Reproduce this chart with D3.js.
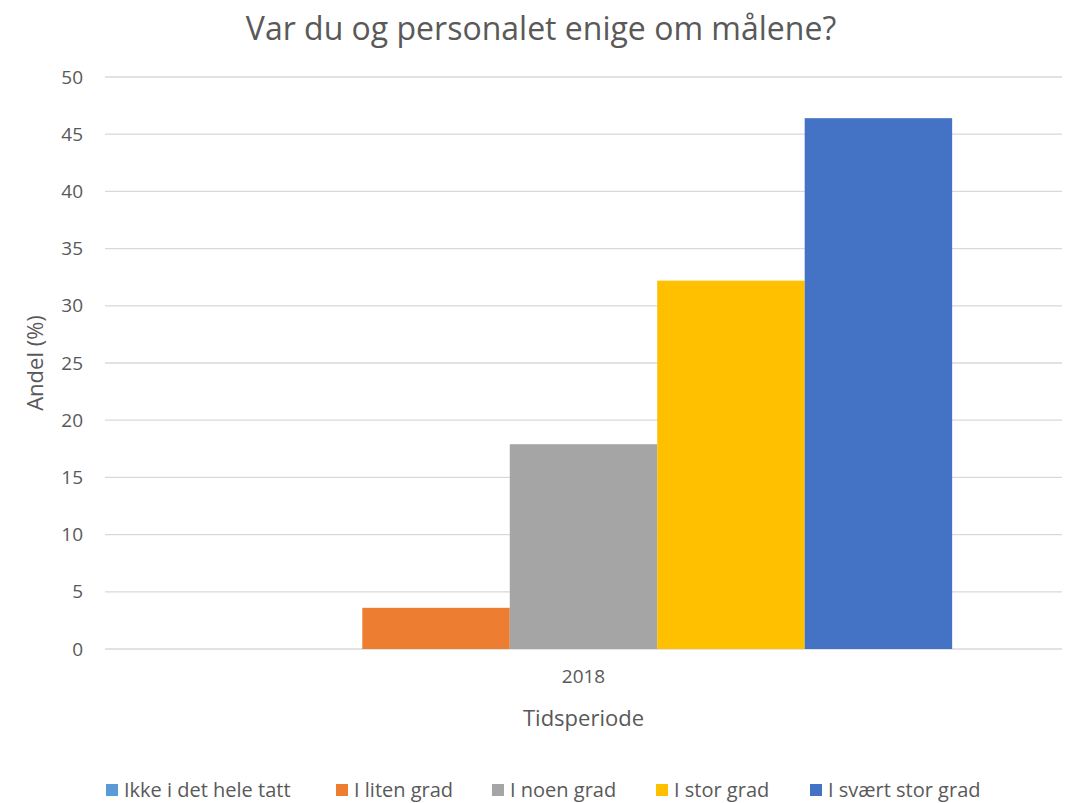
<!DOCTYPE html>
<html>
<head>
<meta charset="utf-8">
<script src="https://cdn.jsdelivr.net/npm/d3@7"></script>
<style>
  body { margin: 0; background: #fff; }
  text { font-family: "Open Sans", "Noto Sans", sans-serif; fill: #595959; }
</style>
</head>
<body>
<svg id="chart" width="1071" height="803"></svg>
<script>
// data
var periods = ["2018"];
var series = ["Ikke i det hele tatt", "I liten grad", "I noen grad", "I stor grad", "I svært stor grad"];
var values2018 = [0, 3.6, 17.9, 32.2, 46.4];
var colors = ["#5b9bd5", "#ed7d31", "#a5a5a5", "#ffc000", "#4472c4"];
var yTicks = [0, 5, 10, 15, 20, 25, 30, 35, 40, 45, 50];

var svg = d3.select("#chart");
var margin = {top: 77, right: 9, bottom: 154, left: 105};
var width = +svg.attr("width") - margin.left - margin.right,
    height = +svg.attr("height") - margin.top - margin.bottom;

var g = svg.append("g")
    .attr("transform", "translate(" + margin.left + "," + margin.top + ")");

var x0 = d3.scaleBand().domain(periods).range([0, width]).paddingInner(0).paddingOuter(0.149);
var x1 = d3.scaleBand().domain(series).range([0, x0.bandwidth()]);
var y = d3.scaleLinear().domain([0, 50]).range([height, 0]);

// gridlines
g.append("g")
    .selectAll("line")
    .data(yTicks).enter()
    .append("line")
    .attr("x1", 0).attr("x2", width)
    .attr("y1", function(d) { return y(d); })
    .attr("y2", function(d) { return y(d); })
    .style("stroke", "#d9d9d9")
    .style("stroke-width", 1.3);

// y axis labels
var yAxis = d3.axisLeft(y).tickValues(yTicks).tickSize(0).tickPadding(22);
g.append("g").call(yAxis)
    .call(function(a) { a.select(".domain").remove(); })
    .selectAll("text").style("font-size", "19px").style("fill", "#595959");

// bars
var data = series.map(function(s, i) { return {key: s, value: values2018[i], color: colors[i]}; });
g.append("g").selectAll("g")
    .data(periods).enter()
    .append("g")
    .attr("transform", function(d) { return "translate(" + x0(d) + ",0)"; })
    .selectAll("rect")
    .data(data).enter()
    .append("rect")
    .attr("x", function(d) { return x1(d.key); })
    .attr("width", x1.bandwidth())
    .attr("y", function(d) { return y(d.value); })
    .attr("height", function(d) { return height - y(d.value); })
    .style("fill", function(d) { return d.color; });

// x axis labels
var xAxis = d3.axisBottom(x0).tickSize(0).tickPadding(21);
g.append("g")
    .attr("transform", "translate(0," + height + ")")
    .call(xAxis)
    .call(function(a) { a.select(".domain").remove(); })
    .selectAll("text").style("font-size", "19px").style("fill", "#595959");

// titles
svg.append("text")
    .attr("x", 541).attr("y", 40)
    .attr("text-anchor", "middle")
    .style("font-size", "32px")
    .text("Var du og personalet enige om målene?");

svg.append("text")
    .attr("x", margin.left + x0("2018") + x0.bandwidth() / 2).attr("y", 726)
    .attr("text-anchor", "middle")
    .style("font-size", "22px")
    .text("Tidsperiode");

svg.append("text")
    .attr("transform", "translate(43," + (margin.top + height / 2) + ") rotate(-90)")
    .attr("text-anchor", "middle")
    .style("font-size", "22px")
    .text("Andel (%)");

// legend
var legend = svg.append("g").attr("transform", "translate(0,790)");
var legX = [106, 336, 492, 656, 810];
var items = legend.selectAll("g")
    .data(data).enter()
    .append("g")
    .attr("transform", function(d, i) { return "translate(" + legX[i] + ",0)"; });
items.append("rect")
    .attr("x", 0).attr("y", -6).attr("width", 12).attr("height", 12)
    .style("fill", function(d) { return d.color; });
items.append("text")
    .attr("x", 18).attr("y", 7)
    .style("font-size", "20px")
    .text(function(d) { return d.key; });
</script>
</body>
</html>
